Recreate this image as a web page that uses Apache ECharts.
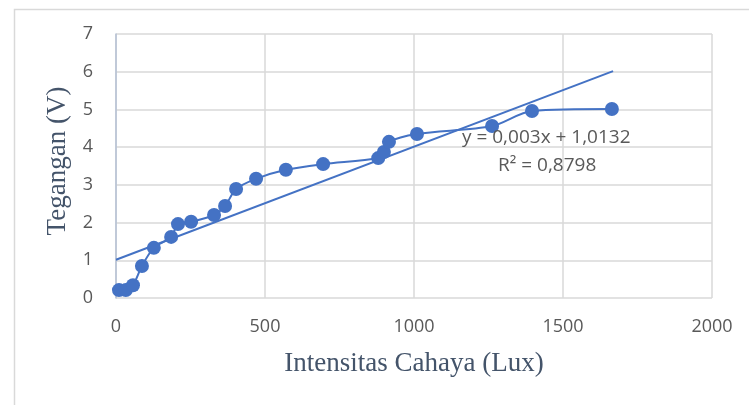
<!DOCTYPE html>
<html>
<head>
<meta charset="utf-8">
<script src="https://cdn.jsdelivr.net/npm/echarts@6/dist/echarts.min.js"></script>
<style>
  html, body { margin: 0; padding: 0; background: #fff; }
  #chart { width: 749px; height: 405px; }
</style>
</head>
<body>
<div id="chart"></div>
<script>
// lux readings and measured voltage
var intensitas = [10, 33, 57, 87, 127, 185, 208, 252, 329, 366, 403, 470, 570, 695, 880, 899, 916, 1010, 1262, 1396, 1664];
var tegangan = [0.21, 0.21, 0.34, 0.85, 1.33, 1.62, 1.96, 2.02, 2.2, 2.44, 2.89, 3.16, 3.4, 3.55, 3.71, 3.87, 4.14, 4.35, 4.56, 4.96, 5.01];
// linear trendline shown on the chart
var slope = 0.003;
var intercept = 1.0132;
var trendX = [0, 1668];

var chart = echarts.init(document.getElementById('chart'));

var points = intensitas.map(function (x, i) { return [x, tegangan[i]]; });
var trend = trendX.map(function (x) { return [x, slope * x + intercept]; });

var option = {
  animation: false,
  grid: { left: 116, right: 37, top: 34, bottom: 107 },
  xAxis: {
    type: 'value', min: 0, max: 2000, interval: 500,
    name: 'Intensitas Cahaya (Lux)', nameLocation: 'middle', nameGap: 52,
    nameTextStyle: { fontFamily: 'Liberation Serif', fontSize: 27, color: '#44546a' },
    axisLine: { show: false },
    axisTick: { show: false },
    axisLabel: {
      margin: 20, fontFamily: 'Open Sans', fontSize: 18, color: '#595959',
      formatter: function (v) { return String(v); }
    },
    splitLine: { lineStyle: { color: '#d9d9d9', width: 1.5 } }
  },
  yAxis: {
    type: 'value', min: 0, max: 7, interval: 1,
    name: 'Tegangan (V)', nameLocation: 'middle', nameGap: 44,
    nameTextStyle: { fontFamily: 'Liberation Serif', fontSize: 27, color: '#44546a', padding: [0, 0, 0, 10] },
    axisLine: { show: true, lineStyle: { color: '#b4c0d4', width: 1.5 } },
    axisTick: { show: false },
    axisLabel: { margin: 23, fontFamily: 'Open Sans', fontSize: 18, color: '#595959' },
    splitLine: { lineStyle: { color: '#d9d9d9', width: 1.5 } }
  },
  series: [
    {
      type: 'line',
      data: trend,
      symbol: 'none',
      lineStyle: { color: '#4472c4', width: 2 },
      z: 2
    },
    {
      type: 'line',
      data: points,
      smooth: 0.3,
      symbol: 'circle',
      symbolSize: 14,
      itemStyle: { color: '#4472c4' },
      lineStyle: { color: '#4472c4', width: 2 },
      z: 3
    }
  ],
  graphic: [
    {
      type: 'rect', left: 12, top: 7, silent: true,
      shape: { width: 760, height: 420 },
      style: { fill: 'none', stroke: '#d9d9d9', lineWidth: 1.5 }
    },
    {
      type: 'text', left: 462, top: 128, z: 10,
      style: { text: 'y = 0,003x + 1,0132', fontFamily: 'Open Sans', fontSize: 19, fill: '#595959' }
    },
    {
      type: 'text', left: 498, top: 156, z: 10,
      style: { text: 'R² = 0,8798', fontFamily: 'Open Sans', fontSize: 19, fill: '#595959' }
    }
  ]
};

chart.setOption(option);
</script>
</body>
</html>
